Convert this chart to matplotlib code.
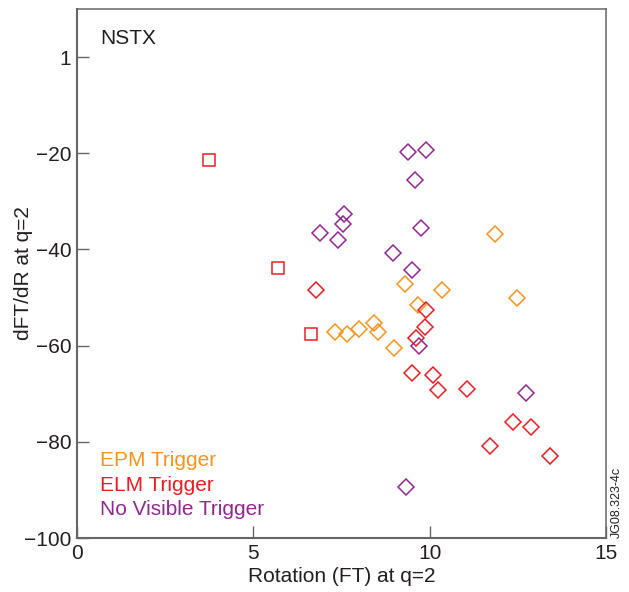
import matplotlib.pyplot as plt
from matplotlib.ticker import FixedLocator

plt.rcParams['font.family'] = ['Liberation Sans', 'DejaVu Sans']

# rotation (FT) and dFT/dR at q=2, grouped by trigger type
epm_x = [9.29, 10.34, 9.66, 7.32, 7.66, 8.00, 8.43, 8.53, 8.99, 11.84, 12.48]
epm_y = [-47.1, -48.4, -51.5, -57.2, -57.5, -56.5, -55.2, -57.2, -60.4, -36.7, -50.1]

elm_x = [6.78, 9.90, 9.88, 9.62, 9.49, 10.09, 10.24, 11.05, 12.37, 12.88, 11.71, 13.40]
elm_y = [-48.5, -52.6, -56.1, -58.4, -65.7, -66.1, -69.2, -69.0, -75.8, -76.9, -80.9, -82.9]

# ELM-triggered shots plotted as squares
elm_sq_x = [3.75, 5.70, 6.64]
elm_sq_y = [-21.4, -43.9, -57.6]

nvt_x = [9.38, 9.89, 9.59, 7.57, 7.55, 6.89, 7.40, 9.76, 8.97, 9.50, 9.71, 12.73, 9.33]
nvt_y = [-19.7, -19.4, -25.5, -32.7, -34.8, -36.6, -38.0, -35.5, -40.7, -44.2, -60.0, -69.9, -89.4]

yticks = [0, -20, -40, -60, -80, -100]
ytick_labels = ['1', '\u221220', '\u221240', '\u221260', '\u221280', '\u2212100']
xticks = [0, 5, 10, 15]

orange = '#F7941D'
red = '#ED1C24'
purple = '#92278F'
frame = '#666666'
ink = '#231f20'
fs = 15

fig = plt.figure(figsize=(6.29, 5.92), dpi=100)
ax = fig.add_axes([0.1224, 0.0912, 0.841, 0.8936])

mk = dict(linestyle='none', markerfacecolor='none', markeredgewidth=1.1)
ax.plot(epm_x, epm_y, marker='D', ms=8, markeredgecolor=orange, **mk)
ax.plot(elm_x, elm_y, marker='D', ms=8, markeredgecolor=red, **mk)
ax.plot(elm_sq_x, elm_sq_y, marker='s', ms=8.5, markeredgecolor=red, **mk)
ax.plot(nvt_x, nvt_y, marker='D', ms=8, markeredgecolor=purple, **mk)

ax.set_xlim(0, 15)
ax.set_ylim(-100, 10)
ax.xaxis.set_major_locator(FixedLocator(xticks))
ax.set_yticks(yticks)
ax.set_yticklabels(ytick_labels)

for s in ax.spines.values():
    s.set_color(frame)
    s.set_linewidth(1.1)
ax.spines['left'].set_linewidth(1.5)
ax.spines['bottom'].set_linewidth(1.5)

ax.tick_params(direction='in', length=8.5, width=1, color=frame,
               labelsize=fs, pad=4, labelcolor=ink)

ax.set_xlabel('Rotation (FT) at q=2', fontsize=fs, color=ink, labelpad=3)
ax.set_ylabel('dFT/dR at q=2', fontsize=fs, color=ink)
ax.yaxis.set_label_coords(-0.083, 0.5)

ax.text(0.0435, 0.945, 'NSTX', transform=ax.transAxes, fontsize=fs,
        color=ink, va='center', ha='left')
ax.text(0.0435, 0.147, 'EPM Trigger', transform=ax.transAxes, fontsize=fs,
        color=orange, va='center', ha='left')
ax.text(0.0435, 0.100, 'ELM Trigger', transform=ax.transAxes, fontsize=fs,
        color=red, va='center', ha='left')
ax.text(0.0435, 0.053, 'No Visible Trigger', transform=ax.transAxes, fontsize=fs,
        color=purple, va='center', ha='left')

fig.text(0.981, 0.091, 'JG08.323-4c', rotation=90, fontsize=9,
         color=ink, va='bottom', ha='center')

fig.savefig('out.png', dpi=100)
